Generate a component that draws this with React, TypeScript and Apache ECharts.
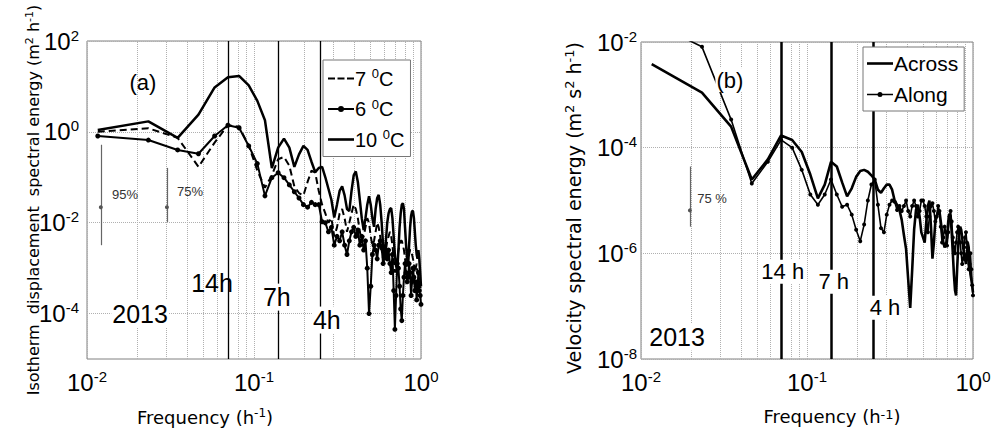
import { useEffect, useRef } from 'react';
import * as echarts from 'echarts';

// Frequency grid (h^-1)
const freq = [
  0.0116, 0.0233, 0.0349, 0.0465, 0.0581, 0.0698, 0.0814, 0.093, 0.1047, 0.1163,
  0.1279, 0.1395, 0.1512, 0.1628, 0.1744, 0.186, 0.1977, 0.2093, 0.2209, 0.2326,
  0.2442, 0.2558, 0.2674, 0.2791, 0.2907, 0.3023, 0.314, 0.3256, 0.3372, 0.3488,
  0.3605, 0.3721, 0.3837, 0.3953, 0.407, 0.4186, 0.4302, 0.4419, 0.4535, 0.4651,
  0.4767, 0.4884, 0.5, 0.5116, 0.5233, 0.5349, 0.5465, 0.5581, 0.5698, 0.5814,
  0.593, 0.6047, 0.6163, 0.6279, 0.6395, 0.6512, 0.6628, 0.6744, 0.686, 0.6977,
  0.7093, 0.7209, 0.7326, 0.7442, 0.7558, 0.7674, 0.7791, 0.7907, 0.8023, 0.814,
  0.8256, 0.8372, 0.8488, 0.8605, 0.8721, 0.8837, 0.8953, 0.907, 0.9186, 0.9302,
  0.9419, 0.9535, 0.9651, 0.9767, 0.9884, 1.0,
];

// (a) isotherm displacement spectral energy (m^2 h^-1)
const isoT7 = [
  1.0, 1.2, 0.74, 0.17, 0.58, 1.4, 1.3, 0.5, 0.14, 0.059,
  0.11, 0.25, 0.28, 0.18, 0.063, 0.045, 0.04, 0.079, 0.14, 0.126,
  0.05, 0.025, 0.016, 0.01, 0.0126, 0.005, 0.0079, 0.016, 0.02, 0.0126,
  0.0063, 0.01, 0.016, 0.025, 0.02, 0.0126, 0.0063, 0.004, 0.005, 0.0079,
  0.0126, 0.01, 0.005, 0.0032, 0.004, 0.0063, 0.01, 0.0079, 0.005, 0.0025,
  0.0016, 0.00126, 0.0025, 0.004, 0.005, 0.0063, 0.005, 0.0032, 0.0016, 0.0008,
  0.001, 0.0016, 0.0025, 0.0032, 0.004, 0.004, 0.0032, 0.0025, 0.0016, 0.001,
  0.00126, 0.0016, 0.002, 0.0025, 0.0025, 0.002, 0.0016, 0.00126, 0.0008, 0.001,
  0.00126, 0.0008, 0.0005, 0.00063, 0.0004, 0.00032,
];
const isoT6 = [
  0.81, 0.66, 0.4, 0.33, 0.81, 1.4, 1.23, 0.49, 0.2, 0.039,
  0.098, 0.126, 0.098, 0.068, 0.048, 0.035, 0.025, 0.022, 0.028, 0.025,
  0.025, 0.0105, 0.01, 0.0063, 0.0079, 0.0032, 0.005, 0.004, 0.0063, 0.0032,
  0.002, 0.004, 0.0063, 0.0079, 0.005, 0.0069, 0.0032, 0.005, 0.0025, 0.004,
  0.001, 0.0001, 0.0004, 0.002, 0.0032, 0.0025, 0.0016, 0.0032, 0.004, 0.0028,
  0.00126, 0.002, 0.0025, 0.0016, 0.0025, 0.00126, 0.0008, 0.002, 0.00032, 0.000045,
  0.00025, 0.00126, 0.001, 0.0004, 0.000126, 0.00007, 0.00025, 0.00063, 0.00126, 0.0008,
  0.0005, 0.00063, 0.00126, 0.0008, 0.00025, 0.0005, 0.001, 0.00063, 0.00032, 0.0005,
  0.0002, 0.0004, 0.0008, 0.00032, 0.00025, 0.00016,
];
const isoT10 = [
  1.1, 1.7, 0.74, 2.4, 9.5, 16, 17, 10.5, 4.8, 1.8,
  0.16, 0.45, 0.71, 0.45, 0.17, 0.32, 0.49, 0.4, 0.22, 0.13,
  0.16, 0.17, 0.1, 0.056, 0.032, 0.013, 0.025, 0.05, 0.063, 0.04,
  0.02, 0.018, 0.05, 0.11, 0.135, 0.079, 0.032, 0.0126, 0.0069, 0.0126,
  0.025, 0.038, 0.025, 0.0126, 0.0081, 0.02, 0.035, 0.041, 0.025, 0.01,
  0.0032, 0.0015, 0.004, 0.01, 0.016, 0.02, 0.021, 0.0126, 0.005, 0.002,
  0.0011, 0.0009, 0.0025, 0.0079, 0.016, 0.025, 0.027, 0.02, 0.0079, 0.0032,
  0.0016, 0.0011, 0.0032, 0.0079, 0.014, 0.018, 0.018, 0.0126, 0.0063, 0.0032,
  0.002, 0.0016, 0.0025, 0.0016, 0.0008, 0.0004,
];

// (b) velocity spectral energy (m^2 s^-2 h^-1)
const velAcross = [
  0.0038, 0.0011, 2.5e-4, 2.5e-5, 6e-5, 1.7e-4, 1.4e-4, 8.3e-5, 3.1e-5, 1.1e-5,
  2.0e-5, 5.4e-5, 4.4e-5, 2.2e-5, 1.2e-5, 1.7e-5, 2.8e-5, 3.6e-5, 3.8e-5, 3.5e-5,
  3.0e-5, 2.5e-5, 1.6e-5, 1.4e-5, 1.7e-5, 2.0e-5, 2.0e-5, 1.6e-5, 1.0e-5, 8.3e-6,
  6.6e-6, 4.3e-6, 2.2e-6, 1.2e-6, 3.2e-7, 9.3e-8, 4.9e-7, 2.8e-6, 6.6e-6, 8.3e-6,
  5.0e-6, 2.5e-6, 2.0e-6, 1.6e-6, 4.0e-6, 7.9e-6, 1.0e-5, 3.2e-6, 7.9e-7, 1.6e-6,
  4.0e-6, 5.0e-6, 6.3e-6, 6.3e-6, 4.0e-6, 2.5e-6, 1.6e-6, 1.3e-6, 1.4e-6, 2.0e-6,
  4.0e-6, 5.6e-6, 5.0e-6, 2.5e-6, 1.0e-6, 4.0e-7, 2.0e-7, 1.6e-7, 5.0e-7, 1.3e-6,
  2.5e-6, 3.2e-6, 2.8e-6, 2.0e-6, 1.3e-6, 1.0e-6, 7.9e-7, 6.3e-7, 1.0e-6, 1.6e-6,
  1.3e-6, 6.3e-7, 4.0e-7, 3.2e-7, 2.5e-7, 1.8e-7,
];
const velAlong = [
  0.024, 0.0081, 3.4e-4, 2.1e-5, 5.4e-5, 1.4e-4, 1.0e-4, 3.8e-5, 1.3e-5, 8.3e-6,
  1.3e-5, 2.5e-5, 1.3e-5, 7.6e-6, 8.3e-6, 5.4e-6, 2.8e-6, 1.7e-6, 3.5e-6, 1.0e-5,
  2.0e-5, 2.5e-5, 8.3e-6, 3.0e-6, 2.5e-6, 5.4e-6, 8.3e-6, 1.0e-5, 9.5e-6, 6.6e-6,
  7.9e-6, 6.3e-6, 7.9e-6, 1.0e-5, 6.3e-6, 5.0e-6, 7.9e-6, 1.0e-5, 7.9e-6, 5.0e-6,
  6.3e-6, 1.0e-5, 1.0e-5, 7.9e-6, 5.0e-6, 2.5e-6, 5.0e-6, 7.9e-6, 8.9e-6, 6.3e-6,
  4.0e-6, 5.0e-6, 7.9e-6, 6.3e-6, 3.2e-6, 1.6e-6, 2.0e-6, 3.2e-6, 2.5e-6, 1.4e-6,
  2.5e-6, 5.0e-6, 6.3e-6, 4.0e-6, 2.0e-6, 1.3e-6, 1.0e-6, 1.6e-6, 2.5e-6, 3.2e-6,
  2.5e-6, 1.6e-6, 1.0e-6, 6.3e-7, 7.9e-7, 1.3e-6, 2.0e-6, 2.5e-6, 1.6e-6, 7.9e-7,
  5.0e-7, 6.3e-7, 1.0e-6, 5.0e-7, 2.5e-7, 1.6e-7,
];

// Tidal period reference lines (frequencies of 14 h, 7 h, 4 h)
const periodFreqs = [0.0714, 0.1429, 0.25];
// Minor grid positions of the log frequency axis
const minorGrid = [0.02, 0.03, 0.04, 0.05, 0.06, 0.07, 0.08, 0.09, 0.2, 0.3, 0.4, 0.5, 0.6, 0.7, 0.8, 0.9];
// Confidence intervals
const confA = [
  { f: 0.0121, lo: 0.0032, mid: 0.022, hi: 0.52 },
  { f: 0.0301, lo: 0.0104, mid: 0.022, hi: 0.161 },
];
const confB = [{ f: 0.0197, lo: 3.2e-6, mid: 6.5e-6, hi: 4.4e-5 }];

// Annotations
const notesA = [
  { text: '(a)', f: 0.0216, v: 12, size: 22, bg: false },
  { text: '95%', f: 0.0169, v: 0.041, size: 13, bg: false },
  { text: '75%', f: 0.0414, v: 0.048, size: 13, bg: false },
  { text: '14h', f: 0.0561, v: 4.7e-4, size: 25, bg: false },
  { text: '7h', f: 0.137, v: 2.3e-4, size: 25, bg: true },
  { text: '4h', f: 0.273, v: 7.2e-5, size: 25, bg: true },
  { text: '2013', f: 0.0208, v: 1.0e-4, size: 25, bg: true },
];
const notesB = [
  { text: '(b)', f: 0.0343, v: 1.9e-3, size: 22, bg: true },
  { text: '75 %', f: 0.0268, v: 1.1e-5, size: 13, bg: false },
  { text: '14 h', f: 0.0714, v: 4.5e-7, size: 22, bg: true },
  { text: '7 h', f: 0.145, v: 2.9e-7, size: 22, bg: true },
  { text: '4 h', f: 0.295, v: 9.3e-8, size: 22, bg: true },
  { text: '2013', f: 0.0165, v: 2.6e-8, size: 25, bg: true },
];

const SANS = 'Liberation Sans, Arial, sans-serif';
const VERD = 'DejaVu Sans, Verdana, sans-serif';

// Legend icons (26 x 8 boxes)
const ICON_SOLID = 'path://M0,0M26,8M0,2.7h26v2.6h-26z';
const ICON_DASH = 'path://M0,0M26,8M0,3h7v2h-7zM9.5,3h7v2h-7zM19,3h7v2h-7z';
const ICON_DOT = 'path://M0,0M26,8M0,3h26v2h-26zM10,4a3,3 0 1,1 6,0a3,3 0 1,1 -6,0z';
const ICON_THIN_DOT = 'path://M0,0M26,8M0,3.2h26v1.6h-26zM10.5,4a2.5,2.5 0 1,1 5,0a2.5,2.5 0 1,1 -5,0z';

const tickRich = {
  b: { fontSize: 24, fontFamily: SANS, color: '#000' },
  s: { fontSize: 15, fontFamily: SANS, color: '#000', padding: [0, 0, 12, 0] },
};

const expOf = (v: number) => Math.round(Math.log10(v));
const xLabel = (v: number) => `{b|10}{s|${expOf(v)}}`;
const yLabelEven = (v: number) => {
  const e = expOf(v);
  return e % 2 === 0 ? `{b|10}{s|${e}}` : '';
};

function helperSeries(gi: number, conf: typeof confA, notes: typeof notesA, periodWidth: number) {
  return [
    {
      type: 'line',
      xAxisIndex: gi,
      yAxisIndex: gi,
      data: [],
      silent: true,
      z: 1,
      markLine: {
        silent: true,
        z: 1,
        symbol: ['none', 'none'],
        label: { show: false },
        lineStyle: { color: '#b0b0b0', type: 'dotted', width: 1 },
        data: minorGrid.map((f) => ({ xAxis: f })),
      },
    },
    {
      type: 'line',
      xAxisIndex: gi,
      yAxisIndex: gi,
      data: [],
      silent: true,
      z: 6,
      markLine: {
        silent: true,
        z: 6,
        symbol: ['none', 'none'],
        label: { show: false },
        data: [
          ...periodFreqs.map((f) => ({ xAxis: f, lineStyle: { color: '#000', width: periodWidth, type: 'solid' } })),
          ...conf.map((c) => [
            { coord: [c.f, c.lo], lineStyle: { color: '#666', width: 1.2, type: 'solid' } },
            { coord: [c.f, c.hi], lineStyle: { color: '#666', width: 1.2, type: 'solid' } },
          ]),
        ],
      },
      markPoint: {
        silent: true,
        z: 10,
        data: [
          ...conf.map((c) => ({
            coord: [c.f, c.mid],
            symbol: 'circle',
            symbolSize: 4,
            itemStyle: { color: '#555' },
            label: { show: false },
          })),
          ...notes.map((n) => ({
            coord: [n.f, n.v],
            symbol: 'circle',
            symbolSize: 1,
            itemStyle: { color: 'rgba(0,0,0,0)' },
            label: {
              show: true,
              position: 'inside',
              formatter: n.text,
              fontSize: n.size,
              fontFamily: SANS,
              color: n.size < 15 ? '#333' : '#000',
              backgroundColor: n.bg ? '#fff' : 'transparent',
              padding: [1, 1, 1, 1],
            },
          })),
        ],
      },
    },
  ];
}

export default function App() {
  const ref = useRef<HTMLDivElement>(null);
  useEffect(() => {
    if (!ref.current) return;
    const chart = echarts.init(ref.current, undefined, { renderer: 'svg' });

    const gridCommon = {
      show: true,
      borderColor: '#808080',
      borderWidth: 1,
      backgroundColor: '#fff',
      containLabel: false,
      outerBoundsMode: 'none',
    };
    const xAxisCommon = {
      type: 'log',
      logBase: 10,
      min: 0.01,
      max: 1,
      axisLine: { show: false },
      axisTick: { show: false },
      splitLine: { show: true, lineStyle: { color: '#b0b0b0', type: 'dotted', width: 1 } },
      axisLabel: { formatter: xLabel, rich: tickRich, margin: 10 },
    };
    const legendCommon = {
      orient: 'vertical',
      itemWidth: 26,
      itemHeight: 8,
      borderColor: '#777',
      borderWidth: 1,
      backgroundColor: '#fff',
      selectedMode: false,
      z: 20,
      itemStyle: { color: '#000', borderWidth: 0 },
    };

    const option: any = {
      animation: false,
      backgroundColor: '#fff',
      grid: [
        { ...gridCommon, left: 87, top: 41, width: 334, height: 318 },
        { ...gridCommon, left: 641, top: 42, width: 332, height: 317 },
      ],
      xAxis: [
        { ...xAxisCommon, gridIndex: 0 },
        { ...xAxisCommon, gridIndex: 1 },
      ],
      yAxis: [
        {
          type: 'log',
          logBase: 10,
          gridIndex: 0,
          min: 1e-5,
          max: 100,
          axisLine: { show: false },
          axisTick: { show: false },
          splitLine: { show: true, lineStyle: { color: ['rgba(0,0,0,0)', '#b0b0b0'], type: 'dotted', width: 1 } },
          axisLabel: { formatter: yLabelEven, rich: tickRich, margin: 8 },
        },
        {
          type: 'log',
          logBase: 10,
          gridIndex: 1,
          min: 1e-8,
          max: 1e-2,
          axisLine: { show: false },
          axisTick: { show: false },
          splitLine: { show: true, lineStyle: { color: ['#b0b0b0', 'rgba(0,0,0,0)'], type: 'dotted', width: 1 } },
          axisLabel: { formatter: yLabelEven, rich: tickRich, margin: 4 },
        },
      ],
      legend: [
        {
          ...legendCommon,
          left: 323,
          top: 60,
          itemGap: 9,
          padding: [7, 6, 7, 5],
          data: [
            { name: '7 ⁰C', icon: ICON_DASH },
            { name: '6 ⁰C', icon: ICON_DOT },
            { name: '10 ⁰C', icon: ICON_SOLID },
          ],
          formatter: (name: string) => `{n|${name.replace(' ⁰C', ' ')}}{s|0}{n|C}`,
          textStyle: {
            padding: [0, 0, 0, -4],
            rich: {
              n: { fontSize: 20, fontFamily: SANS, color: '#000' },
              s: { fontSize: 13, fontFamily: SANS, color: '#000', padding: [0, 0, 10, 0] },
            },
          },
        },
        {
          ...legendCommon,
          left: 863,
          top: 47,
          itemGap: 10,
          padding: [6, 6, 6, 4],
          data: [
            { name: 'Across', icon: ICON_SOLID },
            { name: 'Along', icon: ICON_THIN_DOT },
          ],
          textStyle: { fontSize: 21, fontFamily: SANS, color: '#000', padding: [0, 0, 0, -4] },
        },
      ],
      graphic: [
        {
          type: 'text',
          x: 33,
          y: 200,
          rotation: Math.PI / 2,
          style: {
            text: '{t|Isotherm  displacement  spectral energy (m}{s|2}{t| h}{s|-1}{t|)}',
            rich: {
              t: { fontSize: 16, fontFamily: VERD, color: '#000' },
              s: { fontSize: 11, fontFamily: VERD, color: '#000', padding: [0, 0, 8, 0] },
            },
            align: 'center',
            verticalAlign: 'middle',
            textAlign: 'center',
            textVerticalAlign: 'middle',
          },
        },
        {
          type: 'text',
          x: 574,
          y: 208,
          rotation: Math.PI / 2,
          style: {
            text: '{t|Velocity spectral energy (m}{s|2}{t| s}{s|2}{t| h}{s|-1}{t|)}',
            rich: {
              t: { fontSize: 19, fontFamily: VERD, color: '#000' },
              s: { fontSize: 13, fontFamily: VERD, color: '#000', padding: [0, 0, 9, 0] },
            },
            align: 'center',
            verticalAlign: 'middle',
            textAlign: 'center',
            textVerticalAlign: 'middle',
          },
        },
        {
          type: 'text',
          x: 205,
          y: 417,
          style: {
            text: '{t|Frequency (h}{s|-1}{t|)}',
            rich: {
              t: { fontSize: 18, fontFamily: VERD, color: '#000' },
              s: { fontSize: 12, fontFamily: VERD, color: '#000', padding: [0, 0, 8, 0] },
            },
            align: 'center',
            verticalAlign: 'middle',
            textAlign: 'center',
            textVerticalAlign: 'middle',
          },
        },
        {
          type: 'text',
          x: 832,
          y: 416,
          style: {
            text: '{t|Frequency (h}{s|-1}{t|)}',
            rich: {
              t: { fontSize: 18, fontFamily: VERD, color: '#000' },
              s: { fontSize: 13, fontFamily: VERD, color: '#000', padding: [0, 0, 4, 0] },
            },
            align: 'center',
            verticalAlign: 'middle',
            textAlign: 'center',
            textVerticalAlign: 'middle',
          },
        },
      ],
      series: [
        ...helperSeries(0, confA, notesA, 1.3),
        ...helperSeries(1, confB, notesB, 2.5),
        {
          name: '7 ⁰C',
          type: 'line',
          xAxisIndex: 0,
          yAxisIndex: 0,
          data: freq.map((f, i) => [f, isoT7[i]]),
          symbol: 'none',
          lineStyle: { color: '#000', width: 2, type: [7, 4] },
          itemStyle: { color: '#000' },
          z: 3,
        },
        {
          name: '6 ⁰C',
          type: 'line',
          xAxisIndex: 0,
          yAxisIndex: 0,
          data: freq.map((f, i) => [f, isoT6[i]]),
          symbol: 'circle',
          symbolSize: 5,
          showSymbol: true,
          lineStyle: { color: '#000', width: 2 },
          itemStyle: { color: '#000' },
          z: 3,
        },
        {
          name: '10 ⁰C',
          type: 'line',
          xAxisIndex: 0,
          yAxisIndex: 0,
          data: freq.map((f, i) => [f, isoT10[i]]),
          symbol: 'none',
          lineStyle: { color: '#000', width: 2.5 },
          itemStyle: { color: '#000' },
          z: 3,
        },
        {
          name: 'Across',
          type: 'line',
          xAxisIndex: 1,
          yAxisIndex: 1,
          data: freq.map((f, i) => [f, velAcross[i]]),
          symbol: 'none',
          lineStyle: { color: '#000', width: 2.6 },
          itemStyle: { color: '#000' },
          z: 3,
        },
        {
          name: 'Along',
          type: 'line',
          xAxisIndex: 1,
          yAxisIndex: 1,
          data: freq.map((f, i) => [f, velAlong[i]]),
          symbol: 'circle',
          symbolSize: 4,
          showSymbol: true,
          lineStyle: { color: '#000', width: 1.6 },
          itemStyle: { color: '#000' },
          z: 3,
        },
      ],
    };

    chart.setOption(option);
    return () => chart.dispose();
  }, []);

  return (
    <div
      ref={ref}
      style={{ position: 'fixed', left: 0, top: 0, width: 994, height: 430, background: '#fff' }}
    />
  );
}
